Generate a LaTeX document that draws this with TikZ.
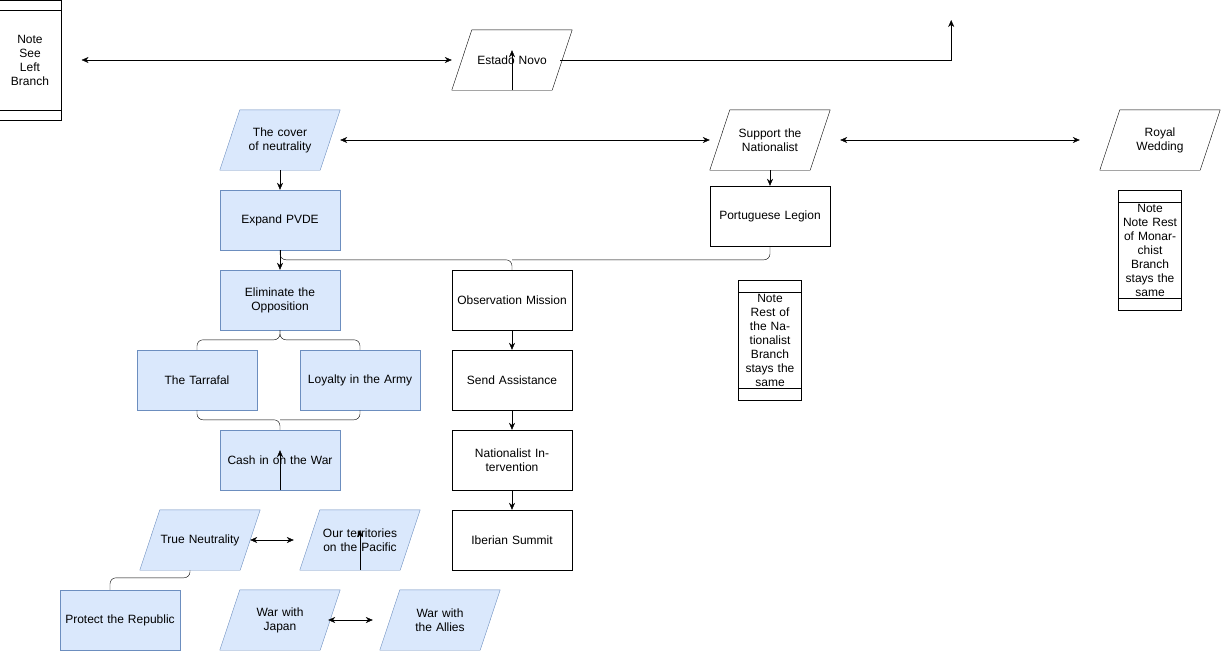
\documentclass[tikz,border=0pt]{standalone}
\usepackage{fontspec}
\setmainfont{Liberation Sans}
\usetikzlibrary{arrows.meta,calc,positioning}
\definecolor{bluefill}{HTML}{DAE8FC}
\definecolor{blueline}{HTML}{6C8EBF}
\tikzset{
  box/.style={draw, minimum width=120pt, minimum height=60pt, text width=112pt, align=center, font=\fontsize{12}{14}\selectfont},
  pbox/.style={minimum width=120pt, minimum height=60pt, text width=80pt, align=center, font=\fontsize{12}{14}\selectfont},
  blue/.style={fill=bluefill, draw=blueline},
  note/.style={draw, minimum width=60pt, minimum height=120pt, text width=56pt, align=center, font=\fontsize{12}{14}\selectfont},
  arr/.style={-{Stealth[length=7pt,width=6pt]}},
  darr/.style={{Stealth[length=7pt,width=6pt]}-{Stealth[length=7pt,width=6pt]}},
}
\newcommand{\slanted}[2]{%
  \draw[#2] (#1.south west) -- ([xshift=-20pt]#1.south east) -- (#1.north east) -- ([xshift=20pt]#1.north west) -- cycle;}
\begin{document}
\begin{tikzpicture}[x=1pt,y=-1pt]
  \useasboundingbox (0,0) rectangle (1221,651);
  % notes
  \node[note] (noteL) at (30,60) {Note\\See\\Left\\Branch};
  \draw ([yshift=-10pt]noteL.north west) -- ([yshift=-10pt]noteL.north east);
  \draw ([yshift=10pt]noteL.south west) -- ([yshift=10pt]noteL.south east);
  \node[note] (noteM) at (770,340) {Note\\Rest of the Nationalist Branch stays the same};
  \draw ([yshift=-12pt]noteM.north west) -- ([yshift=-12pt]noteM.north east);
  \draw ([yshift=12pt]noteM.south west) -- ([yshift=12pt]noteM.south east);
  \node[note] (noteR) at (1150,250) {Note\\Note Rest of Monarchist Branch stays the same};
  \draw ([yshift=-12pt]noteR.north west) -- ([yshift=-12pt]noteR.north east);
  \draw ([yshift=12pt]noteR.south west) -- ([yshift=12pt]noteR.south east);
  % slanted nodes
  \node[pbox] (estado) at (512,60) {Estado Novo};
  \slanted{estado}{draw}
  \node[pbox] (cover) at (280,140) {};
  \slanted{cover}{blue}
  \node[pbox] at (cover) {The cover of neutrality};
  \node[pbox] (support) at (770,140) {Support the Nationalist};
  \slanted{support}{draw}
  \node[pbox] (royal) at (1160,140) {Royal Wedding};
  \slanted{royal}{draw}
  \node[pbox] (trueN) at (200,540) {};
  \slanted{trueN}{blue}
  \node[pbox] at (trueN) {True Neutrality};
  \node[pbox] (terr) at (360,540) {};
  \slanted{terr}{blue}
  \node[pbox] at (terr) {Our territories on the Pacific};
  \node[pbox] (japan) at (280,620) {};
  \slanted{japan}{blue}
  \node[pbox] at (japan) {War with Japan};
  \node[pbox] (allies) at (440,620) {};
  \slanted{allies}{blue}
  \node[pbox] at (allies) {War with the Allies};
  % boxes
  \node[box,blue] (pvde) at (280,220) {Expand PVDE};
  \node[box,blue] (elim) at (280,300) {Eliminate the Opposition};
  \node[box,blue] (tarr) at (197,380) {The Tarrafal};
  \node[box,blue] (loyal) at (360,380) {Loyalty in the Army};
  \node[box,blue] (cash) at (280,460) {Cash in on the War};
  \node[box,blue] (protect) at (120,620) {Protect the Republic};
  \node[box] (legion) at (770,216) {Portuguese Legion};
  \node[box] (obs) at (512,300) {Observation Mission};
  \node[box] (send) at (512,380) {Send Assistance};
  \node[box] (interv) at (512,460) {Nationalist Intervention};
  \node[box] (iber) at (512,540) {Iberian Summit};
  % connectors
  \draw[darr] ([xshift=20pt]noteL.east) -- (estado.west);
  \draw[arr] (estado.south) -- ([yshift=40pt]estado.south);
  \draw[arr] ([xshift=-12pt]estado.east) -| ([yshift=40pt,xshift=379pt]estado.east);
  \draw[darr] (cover.east) -- (support.west);
  \draw[darr] ([xshift=10pt]support.east) -- ([xshift=-20pt]royal.west);
  \draw[arr] (cover.south) -- (pvde.north);
  \draw[arr] (support.south) -- (legion.north);
  \draw[arr] (pvde.south) -- (elim.north);
  \draw[rounded corners=6pt] (pvde.south) |- ($(obs.north)+(0,-10)$) -- (obs.north);
  \draw[rounded corners=6pt] (legion.south) |- ($(obs.north)+(0,-10)$);
  \draw[rounded corners=6pt] (elim.south) |- ($(tarr.north)+(0,-10)$) -- (tarr.north);
  \draw[rounded corners=6pt] (elim.south) |- ($(loyal.north)+(0,-10)$) -- (loyal.north);
  \draw[rounded corners=6pt] (tarr.south) |- ($(cash.north)+(0,-10)$) -- (cash.north);
  \draw[rounded corners=6pt] (loyal.south) |- ($(cash.north)+(0,-10)$);
  \draw[arr] (obs.south) -- (send.north);
  \draw[arr] (send.south) -- (interv.north);
  \draw[arr] (interv.south) -- (iber.north);
  \draw[arr] (cash.south) -- ([yshift=40pt]cash.south);
  \draw[darr] ([xshift=-10pt]trueN.east) -- ([xshift=-6pt]terr.west);
  \draw[rounded corners=6pt] ([xshift=-10pt]trueN.south) |- ($(protect.north)+(-10,-12)$) -- ([xshift=-10pt]protect.north);
  \draw[arr] (terr.south) -- ([yshift=40pt]terr.south);
  \draw[darr] ([xshift=-12pt]japan.east) -- ([xshift=-7pt]allies.west);
\end{tikzpicture}
\end{document}
